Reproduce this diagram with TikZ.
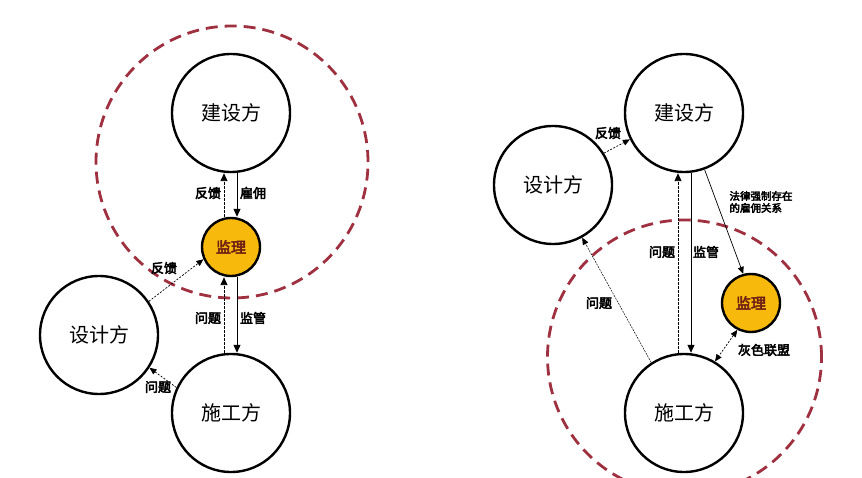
\documentclass[tikz,border=0pt]{standalone}
\usepackage{fontspec}
\usepackage{tikz}
\usetikzlibrary{arrows.meta,positioning}
\newfontfamily\cjk{Noto Sans CJK SC}
\newfontfamily\cjkbold[FakeBold=3.5]{Noto Sans CJK SC}
\definecolor{ringred}{RGB}{158,48,64}
\definecolor{jlyellow}{RGB}{246,185,12}
\definecolor{jltext}{RGB}{110,30,20}

\begin{document}
\begin{tikzpicture}[x=1pt,y=-1pt,
    party/.style={draw,circle,line width=2.4pt,fill=white,minimum size=118pt,inner sep=0pt,font=\cjk\fontsize{20}{22}\selectfont},
    agent/.style={draw,circle,line width=2.4pt,fill=jlyellow,minimum size=58pt,inner sep=0pt,text=jltext,font=\cjkbold\fontsize{15}{17}\selectfont},
    ring/.style={draw=ringred,line width=2.8pt,dash pattern=on 12pt off 7pt},
    lbl/.style={font=\cjkbold\fontsize{13}{15}\selectfont,inner sep=1pt},
    ctl/.style={line width=1pt,-{Triangle[length=8pt,width=7pt]}},
    fb/.style={line width=0.9pt,dash pattern=on 2.5pt off 1.5pt,-{Triangle[length=8pt,width=7pt]}},
    thin fb/.style={line width=0.7pt,dash pattern=on 2pt off 1.5pt,-{Triangle[length=7pt,width=6pt]}}]
    \useasboundingbox (0,0) rectangle (862,478);

    \draw[ring] (232,162) circle[radius=136pt];
    \node[party] (jsL) at (231,113) {建设方};
    \node[agent] (jlL) at (231,247) {监理};
    \node[party] (sjL) at (99,335) {设计方};
    \node[party] (sgL) at (231,413) {施工方};

    \draw[fb] ([xshift=-7pt]jlL.north) -- ([xshift=-7pt]jsL.south);
    \draw[ctl] ([xshift=6pt]jsL.south) -- ([xshift=6pt]jlL.north);
    \draw[fb] ([xshift=-7pt]sgL.north) -- ([xshift=-7pt]jlL.south);
    \draw[ctl] ([xshift=6pt]jlL.south) -- ([xshift=6pt]sgL.north);
    \draw[thin fb] (sjL.34) -- (jlL.204);
    \draw[thin fb] (sgL.155) -- (sjL.327);
    \node[lbl] (fbL1) at (208,193) {反馈};
    \node[lbl] (gyL) at (253,193) {雇佣};
    \node[lbl] (wtL1) at (208,318) {问题};
    \node[lbl] (jgL) at (253,318) {监管};
    \node[lbl] (fbL2) at (164,268) {反馈};
    \node[lbl] (wtL2) at (158,387) {问题};

    \draw[ring] (684.5,357) circle[radius=137pt];
    \node[party] (jsR) at (684,113) {建设方};
    \node[party] (sjR) at (553,185) {设计方};
    \node[party] (sgR) at (684,413) {施工方};
    \node[agent] (jlR) at (751,303) {监理};

    \draw[fb] ([xshift=-6pt]sgR.north) -- ([xshift=-6pt]jsR.south);
    \draw[ctl] ([xshift=7pt]jsR.south) -- ([xshift=7pt]sgR.north);
    \draw[thin fb] (sjR.32) -- (jsR.206);
    \draw[line width=0.5pt,dash pattern=on 2pt off 1pt,-{Triangle[length=7pt,width=6pt]}] (sgR.123) -- (sjR.299);
    \draw[line width=0.7pt,-{Triangle[length=7pt,width=6pt]}] (jsR.290) -- (jlR.105);
    \draw[thin fb,{Triangle[length=7pt,width=6pt]}-{Triangle[length=7pt,width=6pt]}] (jlR.243) -- (sgR.59);
    \node[lbl] (fbR) at (608,133) {反馈};
    \node[lbl] (wtR1) at (662,252) {问题};
    \node[lbl] (jgR) at (706,252) {监管};
    \node[lbl] (wtR2) at (599,303) {问题};
    \node[lbl] (hsR) at (764,350) {灰色联盟};
    \node[font=\cjkbold\fontsize{10.5}{12}\selectfont,align=left,inner sep=0pt] (flR) at (761,202) {法律强制存在\\的雇佣关系};
\end{tikzpicture}
\end{document}
